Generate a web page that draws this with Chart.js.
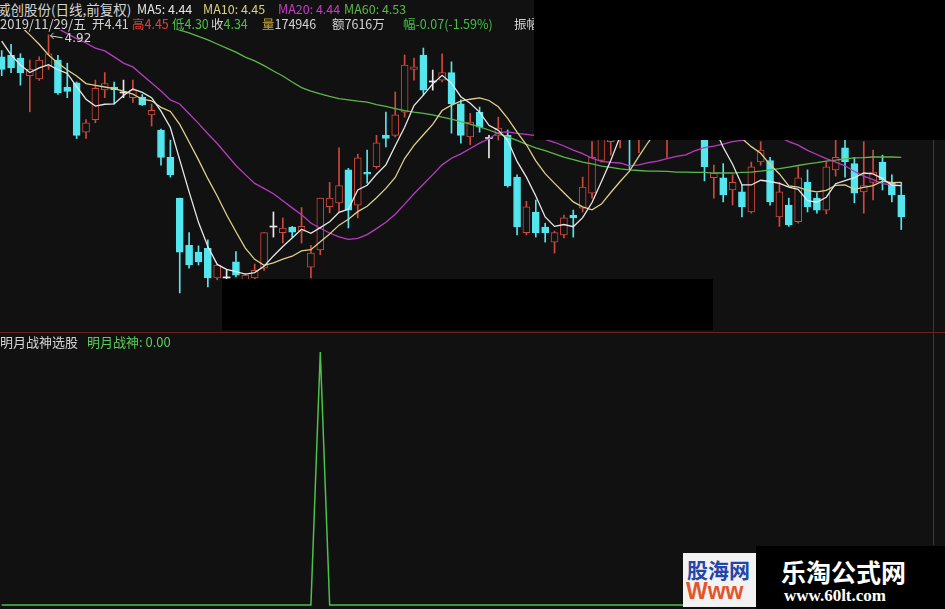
<!DOCTYPE html>
<html>
<head>
<meta charset="utf-8">
<script src="https://cdn.jsdelivr.net/npm/chart.js@4.4.0/dist/chart.umd.min.js"></script>
<style>
  html, body { margin: 0; padding: 0; background: #111111; }
  #wrap { position: relative; width: 945px; height: 609px; overflow: hidden; background: #111111;
          font-family: "Noto Sans CJK SC", "DejaVu Sans", sans-serif; }
  canvas { position: absolute; left: 0; z-index: 1; }
  #kline { top: 30px; }
  #signal { top: 335px; }
  .t { position: absolute; font-size: 12.5px; line-height: 14px; white-space: nowrap; z-index: 2; color: #d4d4d4; }
  .box { position: absolute; }
</style>
</head>
<body>
<div id="wrap">
  <canvas id="kline" width="945" height="302"></canvas>
  <canvas id="signal" width="945" height="274"></canvas>

  <div class="t" id="h1a" style="left:-3px;top:2px;font-size:13.5px;">威创股份(日线,前复权)</div>
  <div class="t" id="h1b" style="left:137px;top:2px;color:#e6e6e6;"></div>
  <div class="t" id="h1c" style="left:203px;top:2px;color:#d9d27a;"></div>
  <div class="t" id="h1d" style="left:278px;top:2px;color:#c83cc8;"></div>
  <div class="t" id="h1e" style="left:344px;top:2px;color:#5cb84a;"></div>

  <div class="t" style="left:0px;top:17px;font-size:13px;">2019/11/29/五</div>
  <div class="t" id="h2open" style="left:92px;top:17px;"></div>
  <div class="t" id="h2high" style="left:132px;top:17px;color:#e04038;"></div>
  <div class="t" id="h2low" style="left:172px;top:17px;color:#44c044;"></div>
  <div class="t" style="left:211px;top:17px;">收<span id="h2close" style="color:#44c044;"></span></div>
  <div class="t" style="left:262px;top:17px;"><span style="color:#c8a838;">量</span>174946</div>
  <div class="t" style="left:332px;top:17px;">额7616万</div>
  <div class="t" id="h2chg" style="left:403px;top:17px;color:#44c044;"></div>
  <div class="t" id="h2amp" style="left:514px;top:17px;"></div>

  <div class="t" style="left:0px;top:335px;font-size:13px;">明月战神选股</div>
  <div class="t" id="sigTitle" style="left:87px;top:335px;font-size:13px;color:#5ccc5c;"></div>

  <!-- black patches and frame lines -->
  <div class="box" style="left:534px;top:0;width:411px;height:140px;background:#000;z-index:3;"></div>
  <div class="box" style="left:222px;top:279px;width:491px;height:51px;background:#000;z-index:3;"></div>
  <div class="box" style="left:0;top:332px;width:945px;height:1px;background:#6e2222;z-index:3;"></div>
  <div class="box" style="left:933px;top:140px;width:1px;height:405px;background:#6e2222;z-index:3;"></div>

  <!-- watermarks -->
  <div class="box" style="left:683px;top:553px;width:74px;height:54px;background:#f2f2f2;z-index:4;overflow:hidden;">
    <div style="position:absolute;left:4px;top:1px;font-size:21px;font-weight:bold;color:#2446a8;white-space:nowrap;">股海网</div>
    <div style="position:absolute;left:3px;top:25px;font-size:23px;font-weight:bold;color:#e4542a;font-family:'Liberation Sans',sans-serif;">Www</div>
  </div>
  <div class="box" style="left:756px;top:546px;width:189px;height:63px;background:#000;z-index:5;">
    <div style="position:absolute;left:25px;top:7px;font-size:25px;font-weight:bold;color:#fff;white-space:nowrap;">乐淘公式网</div>
    <div style="position:absolute;left:28px;top:40px;font-size:17px;font-weight:bold;color:#fff;font-family:'Liberation Serif','DejaVu Serif',serif;">www.60lt.com</div>
  </div>
</div>

<script>
// daily candles
const opens = [4.85, 4.855, 4.846, 4.79, 4.78, 4.82, 4.84, 4.754, 4.767, 4.61,
  4.65, 4.745, 4.754, 4.735, 4.72, 4.722, 4.665, 4.617, 4.53, 4.40,
  4.25, 4.228, 4.24, 4.146, 4.146, 4.197, 4.14, 4.146, 4.177, 4.308,
  4.29, 4.308, 4.295, 4.18, 4.235, 4.373, 4.385, 4.49, 4.378, 4.482,
  4.50, 4.60, 4.60, 4.674, 4.81, 4.856, 4.77, 4.776, 4.80, 4.70,
  4.595, 4.674, 4.59, 4.60, 4.60, 4.467, 4.29, 4.356, 4.308, 4.26,
  4.283, 4.346, 4.368, 4.416, 4.52, 4.58, 4.60, 4.74, 4.63, 4.70,
  4.72, 4.70, 4.77, 4.74, 4.72, 4.70, 4.465, 4.465, 4.426, 4.42,
  4.356, 4.515, 4.52, 4.34, 4.378, 4.325, 4.45, 4.40, 4.362, 4.49,
  4.56, 4.51, 4.42, 4.45, 4.515, 4.45, 4.41];
const highs = [4.87, 4.89, 4.86, 4.84, 4.85, 4.92, 4.855, 4.83, 4.77, 4.65,
  4.776, 4.80, 4.77, 4.776, 4.776, 4.73, 4.70, 4.62, 4.585, 4.40,
  4.29, 4.248, 4.267, 4.19, 4.17, 4.23, 4.16, 4.19, 4.29, 4.356,
  4.337, 4.31, 4.37, 4.25, 4.40, 4.45, 4.56, 4.495, 4.54, 4.553,
  4.60, 4.674, 4.738, 4.856, 4.846, 4.878, 4.808, 4.86, 4.834, 4.713,
  4.67, 4.69, 4.60, 4.658, 4.617, 4.474, 4.39, 4.394, 4.32, 4.295,
  4.346, 4.362, 4.467, 4.58, 4.66, 4.72, 4.74, 4.76, 4.80, 4.79,
  4.80, 4.82, 4.81, 4.79, 4.76, 4.72, 4.505, 4.51, 4.474, 4.442,
  4.515, 4.58, 4.53, 4.45, 4.40, 4.50, 4.49, 4.416, 4.515, 4.60,
  4.585, 4.53, 4.58, 4.553, 4.537, 4.474, 4.45];
const lows = [4.79, 4.80, 4.76, 4.675, 4.775, 4.81, 4.73, 4.72, 4.59, 4.59,
  4.64, 4.72, 4.70, 4.72, 4.705, 4.695, 4.63, 4.505, 4.467, 4.098,
  4.177, 4.187, 4.117, 4.14, 4.13, 4.149, 4.13, 4.14, 4.17, 4.276,
  4.257, 4.276, 4.257, 4.146, 4.22, 4.353, 4.356, 4.305, 4.337, 4.448,
  4.495, 4.563, 4.595, 4.658, 4.776, 4.728, 4.744, 4.77, 4.607, 4.575,
  4.57, 4.61, 4.528, 4.585, 4.435, 4.283, 4.283, 4.276, 4.26, 4.225,
  4.273, 4.276, 4.356, 4.40, 4.515, 4.537, 4.56, 4.49, 4.545, 4.66,
  4.68, 4.53, 4.70, 4.68, 4.66, 4.455, 4.40, 4.388, 4.378, 4.34,
  4.352, 4.505, 4.378, 4.31, 4.31, 4.32, 4.356, 4.352, 4.35, 4.47,
  4.467, 4.385, 4.352, 4.394, 4.426, 4.388, 4.30];
const closes = [4.81, 4.815, 4.80, 4.81, 4.84, 4.86, 4.735, 4.74, 4.60, 4.64,
  4.75, 4.765, 4.745, 4.735, 4.744, 4.697, 4.68, 4.53, 4.474, 4.228,
  4.187, 4.197, 4.146, 4.187, 4.146, 4.155, 4.155, 4.17, 4.29, 4.308,
  4.305, 4.292, 4.31, 4.225, 4.40, 4.40, 4.44, 4.362, 4.528, 4.476,
  4.576, 4.59, 4.665, 4.824, 4.818, 4.744, 4.77, 4.80, 4.70, 4.60,
  4.642, 4.626, 4.59, 4.623, 4.44, 4.308, 4.372, 4.29, 4.29, 4.29,
  4.337, 4.337, 4.435, 4.53, 4.62, 4.68, 4.72, 4.62, 4.76, 4.74,
  4.76, 4.77, 4.74, 4.72, 4.70, 4.50, 4.48, 4.41, 4.45, 4.372,
  4.50, 4.553, 4.388, 4.42, 4.315, 4.465, 4.372, 4.362, 4.50, 4.53,
  4.515, 4.416, 4.44, 4.483, 4.458, 4.41, 4.34];

// moving average lines as drawn
const ma5 = [4.900, 4.856, 4.824, 4.800, 4.815, 4.825, 4.809, 4.797, 4.755, 4.715,
  4.693, 4.699, 4.700, 4.727, 4.748, 4.737, 4.720, 4.677, 4.625, 4.522,
  4.420, 4.323, 4.246, 4.189, 4.173, 4.166, 4.158, 4.163, 4.183, 4.216,
  4.246, 4.273, 4.301, 4.288, 4.306, 4.325, 4.355, 4.365, 4.426, 4.441,
  4.476, 4.506, 4.567, 4.626, 4.695, 4.728, 4.764, 4.791, 4.766, 4.723,
  4.702, 4.674, 4.632, 4.616, 4.584, 4.517, 4.467, 4.407, 4.340, 4.310,
  4.316, 4.309, 4.338, 4.386, 4.452, 4.520, 4.597, 4.634, 4.680, 4.704,
  4.720, 4.730, 4.754, 4.746, 4.738, 4.686, 4.628, 4.562, 4.508, 4.442,
  4.442, 4.457, 4.453, 4.447, 4.435, 4.428, 4.392, 4.387, 4.403, 4.446,
  4.456, 4.465, 4.480, 4.477, 4.462, 4.441, 4.440];
const ma10 = [4.999, 4.974, 4.948, 4.920, 4.890, 4.856, 4.830, 4.808, 4.789, 4.765,
  4.759, 4.754, 4.749, 4.741, 4.731, 4.715, 4.710, 4.689, 4.676, 4.635,
  4.579, 4.522, 4.462, 4.407, 4.347, 4.293, 4.241, 4.205, 4.186, 4.194,
  4.206, 4.215, 4.232, 4.236, 4.261, 4.286, 4.314, 4.333, 4.357, 4.374,
  4.401, 4.431, 4.466, 4.526, 4.568, 4.602, 4.635, 4.679, 4.696, 4.709,
  4.715, 4.719, 4.711, 4.691, 4.654, 4.610, 4.570, 4.519, 4.478, 4.447,
  4.417, 4.388, 4.372, 4.363, 4.381, 4.418, 4.453, 4.486, 4.533, 4.578,
  4.620, 4.664, 4.694, 4.713, 4.721, 4.703, 4.679, 4.658, 4.627, 4.590,
  4.564, 4.543, 4.507, 4.477, 4.439, 4.435, 4.425, 4.420, 4.425, 4.441,
  4.442, 4.428, 4.434, 4.440, 4.454, 4.449, 4.450];
const ma20 = [5.025, 5.010, 5.000, 4.990, 4.970, 4.960, 4.940, 4.924, 4.908, 4.894,
  4.878, 4.869, 4.850, 4.830, 4.818, 4.792, 4.767, 4.741, 4.713, 4.700,
  4.669, 4.638, 4.605, 4.574, 4.539, 4.504, 4.475, 4.447, 4.431, 4.414,
  4.392, 4.369, 4.347, 4.321, 4.304, 4.289, 4.277, 4.269, 4.272, 4.284,
  4.303, 4.323, 4.349, 4.381, 4.414, 4.444, 4.475, 4.506, 4.527, 4.541,
  4.558, 4.575, 4.589, 4.609, 4.611, 4.606, 4.603, 4.599, 4.587, 4.578,
  4.566, 4.553, 4.542, 4.527, 4.517, 4.514, 4.512, 4.503, 4.506, 4.513,
  4.518, 4.526, 4.533, 4.538, 4.551, 4.561, 4.566, 4.572, 4.580, 4.584,
  4.592, 4.603, 4.601, 4.595, 4.580, 4.569, 4.552, 4.539, 4.526, 4.515,
  4.503, 4.485, 4.470, 4.459, 4.446, 4.442, 4.440];
const ma60 = [5.174, 5.162, 5.149, 5.136, 5.123, 5.111, 5.095, 5.082, 5.069, 5.053,
  5.041, 5.025, 5.012, 4.999, 4.986, 4.974, 4.964, 4.955, 4.945, 4.935,
  4.926, 4.915, 4.904, 4.891, 4.878, 4.865, 4.849, 4.837, 4.822, 4.805,
  4.789, 4.770, 4.752, 4.741, 4.732, 4.724, 4.717, 4.713, 4.709, 4.706,
  4.698, 4.692, 4.685, 4.679, 4.674, 4.670, 4.665, 4.658, 4.652, 4.644,
  4.636, 4.627, 4.617, 4.606, 4.595, 4.584, 4.571, 4.560, 4.551, 4.541,
  4.531, 4.523, 4.515, 4.509, 4.502, 4.498, 4.493, 4.490, 4.488, 4.486,
  4.486, 4.485, 4.483, 4.483, 4.482, 4.482, 4.480, 4.480, 4.480, 4.482,
  4.483, 4.486, 4.490, 4.494, 4.499, 4.504, 4.509, 4.513, 4.518, 4.521,
  4.525, 4.528, 4.529, 4.531, 4.531, 4.531, 4.530];

// 明月战神 signal
const signal = [0, 0, 0, 0, 0, 0, 0, 0, 0, 0,
  0, 0, 0, 0, 0, 0, 0, 0, 0, 0,
  0, 0, 0, 0, 0, 0, 0, 0, 0, 0,
  0, 0, 0, 0, 1, 0, 0, 0, 0, 0,
  0, 0, 0, 0, 0, 0, 0, 0, 0, 0,
  0, 0, 0, 0, 0, 0, 0, 0, 0, 0,
  0, 0, 0, 0, 0, 0, 0, 0, 0, 0,
  0, 0, 0, 0, 0, 0, 0, 0, 0, 0,
  0, 0, 0, 0, 0, 0, 0, 0, 0, 0,
  0, 0, 0, 0, 0, 0, 0];

const BG = '#111111';
const RED = '#d0483c';
const CYAN = '#54e6ee';
const DOJI = '#e8e8e8';

const idx = closes.map((c, i) => i);
const candleColor = i => closes[i] > opens[i] ? RED : (closes[i] < opens[i] ? CYAN : DOJI);
const pts = arr => arr.map((v, i) => ({x: i, y: v}));

// header texts from the last bar
const n = closes.length - 1;
const f2 = v => v.toFixed(2);
document.getElementById('h1b').textContent = 'MA5: ' + f2(ma5[n]);
document.getElementById('h1c').textContent = 'MA10: ' + f2(ma10[n]);
document.getElementById('h1d').textContent = 'MA20: ' + f2(ma20[n]);
document.getElementById('h1e').textContent = 'MA60: ' + f2(ma60[n]);
document.getElementById('h2open').textContent = '开' + f2(opens[n]);
document.getElementById('h2high').textContent = '高' + f2(highs[n]);
document.getElementById('h2low').textContent = '低' + f2(lows[n]);
document.getElementById('h2close').textContent = f2(closes[n]);
let chg = closes[n] - closes[n - 1];
document.getElementById('h2chg').textContent = '幅' + f2(chg) + '(' + f2(chg / closes[n - 1] * 100) + '%)';
document.getElementById('h2amp').textContent = '振幅' + f2((highs[n] - lows[n]) / closes[n - 1] * 100) + '%';
document.getElementById('sigTitle').textContent = '明月战神: ' + f2(signal[n]);

const xScale = {type: 'linear', min: -0.181, max: 100.67, offset: false, display: false};

const highLabel = {
    id: 'highLabel',
    afterDatasetsDraw(chart) {
        let hi = Math.max(...highs);
        let i = highs.indexOf(hi);
        let x = chart.scales.x.getPixelForValue(i);
        let y = chart.scales.y.getPixelForValue(hi);
        let ctx = chart.ctx;
        ctx.save();
        ctx.strokeStyle = '#d8d8d8';
        ctx.lineWidth = 1;
        ctx.beginPath();
        ctx.moveTo(x + 2, y + 1);
        ctx.lineTo(x + 14, y + 3);
        ctx.moveTo(x + 2, y + 1);
        ctx.lineTo(x + 5, y - 2);
        ctx.moveTo(x + 2, y + 1);
        ctx.lineTo(x + 5, y + 4);
        ctx.stroke();
        ctx.fillStyle = '#d8d8d8';
        ctx.font = '12px "DejaVu Sans", sans-serif';
        ctx.textBaseline = 'middle';
        ctx.fillText(f2(hi), x + 16, y + 4);
        ctx.restore();
    }
};

function maLine(data, color, order) {
    return {type: 'line', data: pts(data), borderColor: color, borderWidth: 1.3,
            pointRadius: 0, tension: 0, order: order};
}

new Chart(document.getElementById('kline').getContext('2d'), {
    type: 'bar',
    data: {
        datasets: [
            {
                label: 'wick',
                data: idx.map(i => ({x: i, y: [lows[i], highs[i]]})),
                backgroundColor: idx.map(candleColor),
                borderWidth: 0,
                barThickness: 1,
                grouped: false,
                order: 10,
            },
            {
                label: 'body',
                data: idx.map(i => ({x: i, y: [opens[i], closes[i]]})),
                backgroundColor: idx.map(i => closes[i] > opens[i] ? BG : candleColor(i)),
                borderColor: idx.map(candleColor),
                borderWidth: idx.map(i => closes[i] === opens[i] ? 0 : 1),
                borderSkipped: false,
                barThickness: 7,
                minBarLength: 1,
                grouped: false,
                order: 9,
            },
            maLine(ma60, '#5cb84a', 4),
            maLine(ma20, '#b83cc0', 3),
            maLine(ma10, '#ddd08a', 2),
            maLine(ma5, '#e8e8e8', 1),
        ]
    },
    options: {
        responsive: false,
        animation: false,
        events: [],
        layout: {padding: 0},
        scales: {
            x: xScale,
            y: {type: 'linear', min: 3.9737, max: 4.9355, beginAtZero: false, display: false},
        },
        plugins: {legend: {display: false}, tooltip: {enabled: false}},
    },
    plugins: [highLabel],
});

new Chart(document.getElementById('signal').getContext('2d'), {
    type: 'line',
    data: {
        datasets: [{
            label: '明月战神',
            data: pts(signal),
            borderColor: '#4cc24c',
            borderWidth: 1.5,
            pointRadius: 0,
            tension: 0,
        }]
    },
    options: {
        responsive: false,
        animation: false,
        events: [],
        layout: {padding: 0},
        scales: {
            x: xScale,
            y: {type: 'linear', min: -0.0158, max: 1.0672, display: false},
        },
        plugins: {legend: {display: false}, tooltip: {enabled: false}},
    },
});
</script>
</body>
</html>
